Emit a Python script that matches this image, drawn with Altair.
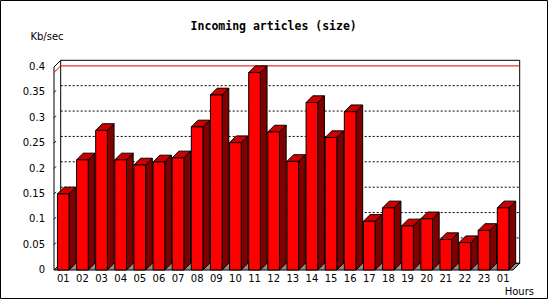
import altair as alt
import pandas as pd

# ---- data ----
hours = ["01", "02", "03", "04", "05", "06", "07", "08", "09", "10", "11", "12",
         "13", "14", "15", "16", "17", "18", "19", "20", "21", "22", "23", "01"]
values = [0.150, 0.217, 0.275, 0.217, 0.207, 0.213, 0.221, 0.282, 0.345, 0.251,
          0.389, 0.272, 0.214, 0.330, 0.261, 0.312, 0.096, 0.1225, 0.087, 0.101,
          0.060, 0.054, 0.078, 0.1225]
y_ticks = [0, 0.05, 0.1, 0.15, 0.2, 0.25, 0.3, 0.35, 0.4]
grid_vals = [0.05, 0.1, 0.15, 0.2, 0.25, 0.3, 0.35]
TITLE = "Incoming articles (size)"
Y_TITLE = "Kb/sec"
X_TITLE = "Hours"

# ---- geometry / style ----
N = len(values)
W, H = 459, 203
YMAX = 0.4
DEPTH = 6.7  # px of the 3D depth
DX = DEPTH / (W / N)
DY = DEPTH / (H / YMAX)
BAR_L, BAR_R = 0.18, 0.79
FRONT, TOP, SIDE = "#ff0000", "#cc0000", "#800000"
LABEL_FONT = "DejaVu Sans"

xs = alt.Scale(domain=[0, N], nice=False, zero=False)
ys = alt.Scale(domain=[0, YMAX], nice=False, zero=False)


def X(f, **kw):
    return alt.X(f, type="quantitative", scale=xs, axis=kw.pop("axis", None), **kw)


def Y(f, **kw):
    return alt.Y(f, type="quantitative", scale=ys, axis=kw.pop("axis", None),
                 stack=None, **kw)


X2, Y2 = alt.X2, alt.Y2

# ---- tables ----
front = pd.DataFrame({
    "i": range(N),
    "x0": [i + BAR_L for i in range(N)],
    "x1": [i + BAR_R for i in range(N)],
    "v": values,
    "zero": [0.0] * N,
})

side_rows, top_rows = [], []
for i, v in enumerate(values):
    x0, x1 = i + BAR_L, i + BAR_R
    side_rows += [
        {"bar": i, "x": x1, "lo": 0.0, "hi": v},
        {"bar": i, "x": x1 + DX, "lo": DY, "hi": v + DY},
    ]
    top_rows += [
        {"bar": i, "x": x0, "lo": v, "hi": v},
        {"bar": i, "x": x0 + DX, "lo": v, "hi": v + DY},
        {"bar": i, "x": x1, "lo": v, "hi": v + DY},
        {"bar": i, "x": x1 + DX, "lo": v + DY, "hi": v + DY},
    ]
side = pd.DataFrame(side_rows)
topf = pd.DataFrame(top_rows)

floor = pd.DataFrame({
    "x": [0, DX, N, N + DX],
    "lo": [0, 0, 0, DY],
    "hi": [0, DY, DY, DY],
})

back = pd.DataFrame({"x0": [DX], "x1": [N + DX], "y0": [DY], "y1": [YMAX + DY]})
grid = pd.DataFrame({"v": [g + DY for g in grid_vals], "x0": DX, "x1": N + DX})
ticks = pd.DataFrame({"v": y_ticks, "v2": [t + 0.004 for t in y_ticks],
                      "x0": 0.0, "x1": 0.1, "lab": [f"{t:g}" for t in y_ticks]})
vmax = max(values)
maxline = pd.DataFrame({"o": [0, 1, 2], "x": [0, DX, N + DX],
                        "y": [vmax, vmax + DY, vmax + DY]})
corner = pd.DataFrame({"x0": [0.0], "x1": [DX], "y0": [YMAX], "y1": [YMAX + DY]})
yaxis = pd.DataFrame({"x": [0.0], "y0": [0.0], "y1": [YMAX]})
xlab = pd.DataFrame({"xc": [i + (BAR_L + BAR_R) / 2 for i in range(N)], "lab": hours})

# ---- layers ----
frame = alt.Chart(alt.Data(values=[{}])).mark_rect(
    fill=None, stroke="black", strokeWidth=1
).encode(x=alt.value(-53.5), x2=alt.value(493.5), y=alt.value(-66.5), y2=alt.value(231.5))

back_l = alt.Chart(back).mark_rect(fill="white", stroke="black", strokeWidth=1).encode(
    x=X("x0"), x2=X2("x1"), y=Y("y0"), y2=Y2("y1"))

grid_l = alt.Chart(grid).mark_rule(color="black", strokeWidth=1, strokeDash=[2, 2]).encode(
    x=X("x0"), x2=X2("x1"), y=Y("v"))


def area(df, fill, grouped):
    enc = dict(x=X("x"), y=Y("hi"), y2=Y2("lo"))
    if grouped:
        enc["detail"] = "bar:N"
    return alt.Chart(df).mark_area(
        filled=True, fill=fill, fillOpacity=1, opacity=1,
        stroke="black", strokeWidth=1, strokeOpacity=1,
        orient="vertical", interpolate="linear"
    ).encode(**enc)


floor_l = area(floor, "#8f8f8f", False)

corner_l = alt.Chart(corner).mark_rule(color="black", strokeWidth=1).encode(
    x=X("x0"), x2=X2("x1"), y=Y("y0"), y2=Y2("y1"))

yaxis_l = alt.Chart(yaxis).mark_rule(color="black", strokeWidth=1).encode(
    x=X("x"), y=Y("y0"), y2=Y2("y1"))

max_l = alt.Chart(maxline).mark_line(color="#e00000", strokeWidth=1).encode(
    x=X("x"), y=Y("y"), order=alt.Order("o:Q"))

side_l = area(side, SIDE, True)
top_l = area(topf, TOP, True)

front_l = alt.Chart(front).mark_rect(color=FRONT, stroke="black", strokeWidth=1).encode(
    x=X("x0", axis=alt.Axis(values=list(range(N + 1)), labels=False, ticks=True,
                            tickSize=4.5, tickColor="black", domainColor="black",
                            grid=False, title=None, orient="bottom")),
    x2=X2("x1"),
    y=Y("zero"),
    y2=Y2("v"))

tick_l = alt.Chart(ticks).mark_rule(color="black", strokeWidth=1).encode(
    x=X("x0"), x2=X2("x1"), y=Y("v"), y2=Y2("v2"))

ylab_l = alt.Chart(ticks).mark_text(font=LABEL_FONT, fontSize=10, color="black",
                                    baseline="middle", align="right").encode(
    x=alt.value(-9), y=Y("v"), text="lab:N")

xlab_l = alt.Chart(xlab).mark_text(font=LABEL_FONT, fontSize=10, color="black",
                                   baseline="middle", align="center").encode(
    x=X("xc"), y=alt.value(212.3), text="lab:N")

title_l = alt.Chart(alt.Data(values=[{"t": TITLE}])).mark_text(
    font="DejaVu Sans Mono", fontSize=11.5, fontWeight="bold", color="black",
    align="center", baseline="middle").encode(
    x=alt.value(219.7), y=alt.value(-40.3), text="t:N")

ytitle_l = alt.Chart(alt.Data(values=[{"t": Y_TITLE}])).mark_text(
    font=LABEL_FONT, fontSize=10, color="black", align="center", baseline="middle").encode(
    x=alt.value(-7), y=alt.value(-30.3), text="t:N")

xtitle_l = alt.Chart(alt.Data(values=[{"t": X_TITLE}])).mark_text(
    font=LABEL_FONT, fontSize=10, color="black", align="right", baseline="middle").encode(
    x=alt.value(480), y=alt.value(224.7), text="t:N")

chart = alt.layer(
    frame, back_l, grid_l, floor_l, corner_l, yaxis_l, max_l,
    side_l, top_l, front_l, tick_l, ylab_l, xlab_l, title_l, ytitle_l, xtitle_l
).properties(
    width=W, height=H,
    padding={"left": 54, "top": 67, "right": 37, "bottom": 30},
    autosize=alt.AutoSizeParams(type="none"),
    background="white",
).configure_view(strokeWidth=0)

chart.save("out.html", embed_options={"renderer": "svg", "actions": False})
